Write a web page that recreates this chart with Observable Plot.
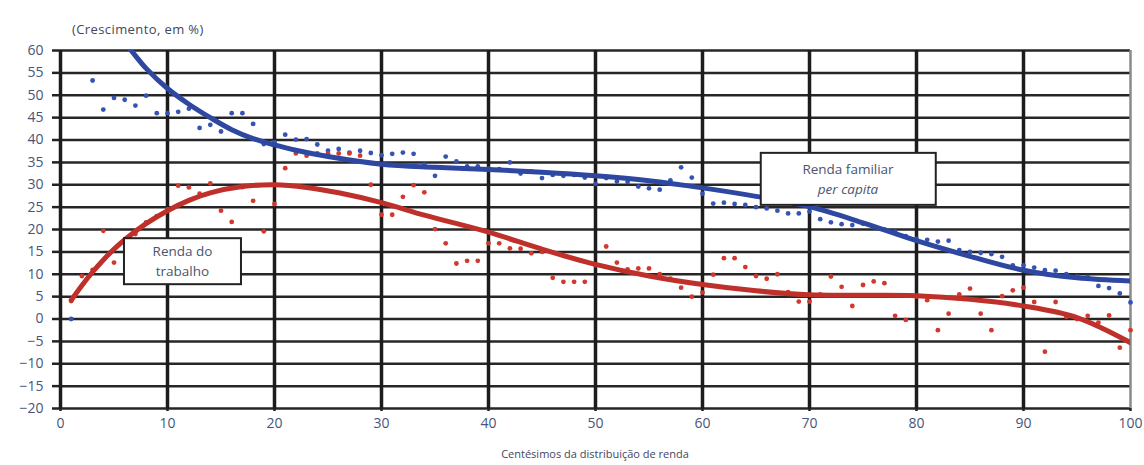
<!DOCTYPE html>
<html><head><meta charset="utf-8">
<script src="https://cdn.jsdelivr.net/npm/d3@7"></script>
<script src="https://cdn.jsdelivr.net/npm/@observablehq/plot@0.6"></script>
<style>
body{margin:0;background:#fff;font-family:"Open Sans",sans-serif;}
#title{height:38px;position:relative;}
#title span{position:absolute;left:72px;top:20px;font-size:13px;letter-spacing:0.4px;color:#3f4760;}
#cap{text-align:center;padding-left:60px;width:1070px;font-size:11px;color:#3f4760;margin-top:8px;}
</style></head><body>
<div id="title"><span>(Crescimento, em %)</span></div>
<div id="chart"></div>
<div id="cap">Centésimos da distribuição de renda</div>
<script>
const centiles = [1,2,3,4,5,6,7,8,9,10,11,12,13,14,15,16,17,18,19,20,21,22,23,24,25,26,27,28,29,30,31,32,33,34,35,36,37,38,39,40,41,42,43,44,45,46,47,48,49,50,51,52,53,54,55,56,57,58,59,60,61,62,63,64,65,66,67,68,69,70,71,72,73,74,75,76,77,78,79,80,81,82,83,84,85,86,87,88,89,90,91,92,93,94,95,96,97,98,99,100];
const familiarValues = [0,null,53.3,46.8,49.4,49.0,47.7,49.9,46,46,46.3,47,42.7,43.4,41.9,46,46,43.6,39.1,39.5,
  41.2,40.1,40.2,39,37.6,38,37.2,37.6,37.1,36.6,36.9,37.2,36.9,34.5,32,36.3,35.2,34.1,34.1,33.6,
  33.5,35,32.5,33,31.5,32.2,32,32.2,31.6,30.2,31.5,30.7,30.6,29.6,29.2,28.9,31,33.9,31.6,28,
  25.8,26,25.7,25.5,25,24.7,24.2,23.6,23.6,24,22.3,21.6,21.2,21,21.3,20.5,20,19.5,18.5,17.9,
  17.7,17.3,17.5,15.4,15,14.8,14.5,13.9,12,12,11.5,10.9,10.8,10,9.5,9.4,7.4,6.9,5.7,3.7];
const trabalhoValues = [4,9.6,11,19.7,12.6,17.5,19,21.6,23,24.5,29.8,29.4,28,30.3,24.2,21.7,29.5,26.4,19.6,25.7,
  33.7,37,36.5,37,37,37,37,36.5,30,23.3,23.3,27.3,29.9,28.3,20.1,16.9,12.4,13,13,16.9,
  16.9,15.8,15.7,14.7,15,9.2,8.3,8.3,8.3,12,16.2,12.6,11.1,11.3,11.3,10,9,7,5,5.9,
  9.9,13.6,13.6,11.6,9.6,9,10,6,3.9,3.9,5.5,9.5,7.2,2.9,7.6,8.4,8,0.7,-0.2,5,
  4.2,-2.5,1.2,5.5,6.8,1.2,-2.5,5.1,6.4,7,3.8,-7.3,3.8,0.5,0,0.7,-0.8,0.8,-6.4,-2.5];
// fitted trend curves
const familiarTrendX = [5,6.5,8,10,12,14,16,18,20,22,25,30,35,40,45,50,55,60,65,70,75,80,85,90,95,100];
const familiarTrendY = [64.5,60.3,56,51.5,48,45,42.3,40.3,38.9,37.7,36.3,34.6,33.9,33.4,32.8,32.0,30.9,29.3,27.4,25.1,21.5,17.5,14,10.9,9.2,8.5];
const trabalhoTrendX = [1,2,3,4,5,6,8,10,12,14,17,20,23,26,30,34,40,45,50,55,60,65,70,75,80,85,90,95,100];
const trabalhoTrendY = [4.2,7.5,10.5,13.2,15.6,17.7,21.3,24.2,26.5,28.2,29.6,30,29.4,28.2,26,23.2,19.4,15.6,12.2,9.6,7.7,6.3,5.4,5.3,5.2,4.4,2.9,0.3,-5.3];
const xTicks = [0,10,20,30,40,50,60,70,80,90,100];
const yTicks = [-20,-15,-10,-5,0,5,10,15,20,25,30,35,40,45,50,55,60];
const labelTexts = ["Renda do\ntrabalho", "Renda familiar\nper capita"];
const labelX = [11.4, 73.6];
const labelY = [13.2, 31.6];

const famDots = centiles.map((c,i)=>({c, v: familiarValues[i]}));
const trabDots = centiles.map((c,i)=>({c, v: trabalhoValues[i]}));
const famTrend = familiarTrendX.map((c,i)=>({c, v: familiarTrendY[i]}));
const trabTrend = trabalhoTrendX.map((c,i)=>({c, v: trabalhoTrendY[i]}));
const labels = labelTexts.map((t,i)=>({t, c: labelX[i], v: labelY[i]}));

const plot = Plot.plot({
  width: 1144, height: 400,
  marginLeft: 60, marginRight: 14, marginTop: 12, marginBottom: 30,
  style: {fontFamily: "Open Sans", fontSize: "13px", background: "#fff"},
  x: {domain: [0,100]},
  y: {domain: [-20,60]},
  marks: [
    Plot.gridY(yTicks, {stroke: "#262626", strokeWidth: 2.5, strokeOpacity: 1}),
    Plot.gridX(xTicks.filter(d => d < 100), {stroke: "#1c1c1c", strokeWidth: 3.5, strokeOpacity: 1}),
    Plot.gridX(xTicks.filter(d => d === 100), {stroke: "#8a8a8a", strokeWidth: 2.5, strokeOpacity: 1}),
    Plot.axisY(yTicks, {tickSize: 8, tickPadding: 9, stroke: "#222", strokeWidth: 2.5, fill: "#46557a", fontSize: 14, label: null}),
    Plot.axisX(xTicks, {tickSize: 3, tickPadding: 7, stroke: "#222", strokeWidth: 2.5, fill: "#46557a", fontSize: 14, label: null}),
    Plot.dot(famDots, {x: "c", y: "v", r: 2.4, fill: "#3653b3", stroke: "none"}),
    Plot.dot(trabDots, {x: "c", y: "v", r: 2.4, fill: "#d2382e", stroke: "none"}),
    Plot.line(trabTrend, {x: "c", y: "v", curve: "catmull-rom", stroke: "#c0302b", strokeWidth: 5, clip: true}),
    Plot.line(famTrend, {x: "c", y: "v", curve: "catmull-rom", stroke: "#2e47a0", strokeWidth: 5, clip: true}),
    Plot.text(labels, {x: "c", y: "v", text: "t", fill: "#4a5570", fontSize: 13.5, lineHeight: 1.45, className: "lbl"})
  ]
});
document.getElementById("chart").appendChild(plot);

// white boxes behind the annotation labels
const boxSize = [[117, 46], [175, 52]];
const texts = plot.querySelectorAll(".lbl text");
texts.forEach((el, i) => {
  const bb = el.getBBox();
  const cx = bb.x + bb.width / 2, cy = bb.y + bb.height / 2;
  const [w, h] = boxSize[i];
  const r = document.createElementNS("http://www.w3.org/2000/svg", "rect");
  r.setAttribute("x", cx - w / 2); r.setAttribute("y", cy - h / 2);
  r.setAttribute("width", w); r.setAttribute("height", h);
  const tr = el.getAttribute("transform");
  if (tr) r.setAttribute("transform", tr);
  r.setAttribute("fill", "#fff"); r.setAttribute("stroke", "#222"); r.setAttribute("stroke-width", 2);
  el.parentNode.insertBefore(r, el);
  if (i === 1) {
    const ts = el.querySelectorAll("tspan");
    if (ts[1]) ts[1].setAttribute("font-style", "italic");
  }
});
</script>
</body></html>
